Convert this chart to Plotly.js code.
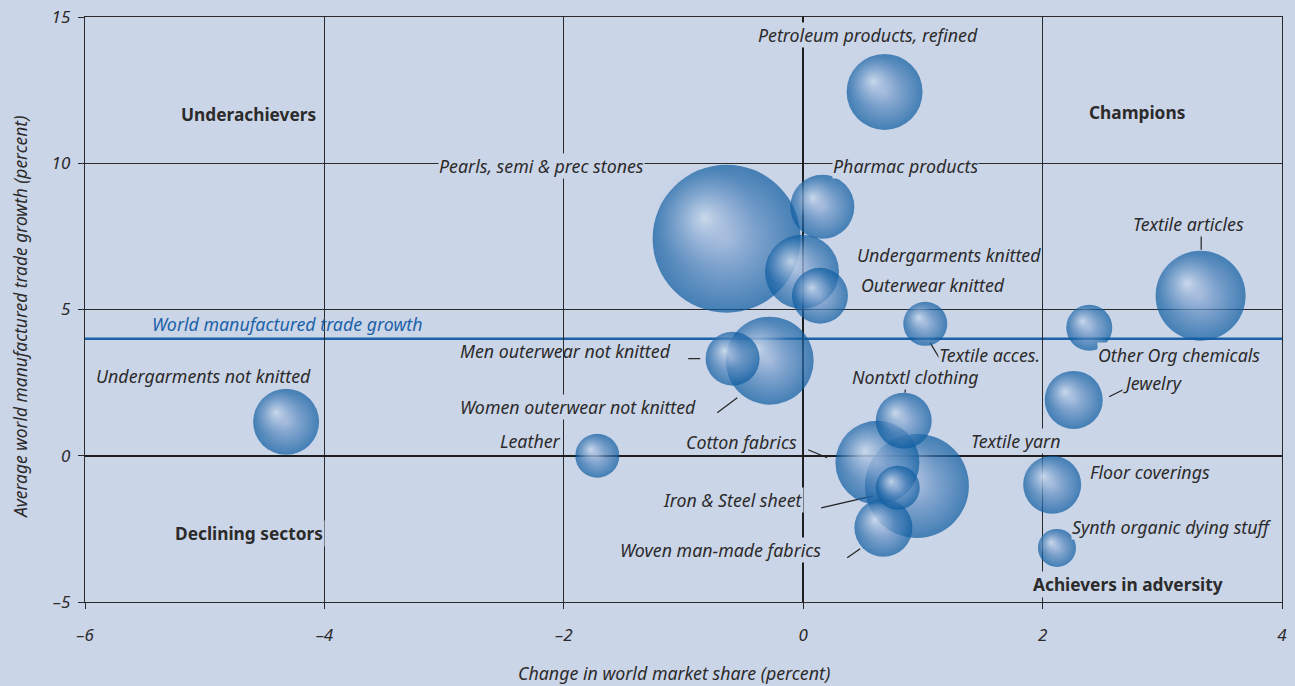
<!DOCTYPE html>
<html>
<head>
<meta charset="utf-8">
<script src="https://cdn.plot.ly/plotly-3.0.1.min.js"></script>
<style>html,body{margin:0;padding:0;background:#cbd5e8;}#chart{width:1295px;height:686px;}</style>
</head>
<body>
<div id="chart"></div>
<script>
// Data
var products = ["Petroleum products, refined", "Pearls, semi & prec stones", "Pharmac products",
  "Undergarments knitted", "Outerwear knitted", "Textile acces.", "Women outerwear not knitted",
  "Men outerwear not knitted", "Undergarments not knitted", "Leather", "Textile yarn",
  "Cotton fabrics", "Nontxtl clothing", "Woven man-made fabrics", "Iron & Steel sheet",
  "Textile articles", "Other Org chemicals", "Jewelry", "Floor coverings", "Synth organic dying stuff"];
var marketShareChange = [0.68, -0.64, 0.16, -0.01, 0.14, 1.02, -0.28, -0.59, -4.32, -1.72, 0.95,
  0.62, 0.84, 0.67, 0.79, 3.32, 2.39, 2.26, 2.08, 2.12];
var tradeGrowth = [12.44, 7.42, 8.51, 6.29, 5.47, 4.51, 3.25, 3.32, 1.16, 0.0, -1.03,
  -0.24, 1.20, -2.46, -1.09, 5.47, 4.38, 1.91, -0.99, -3.15];
var tradeSize = [76, 148, 64, 74, 56, 44, 88, 54, 66, 44, 104, 84, 56, 58, 44, 90, 46, 58, 58, 38];
var worldTradeGrowth = 4;
var xTicks = [-6, -4, -2, 0, 2, 4];
var xTickLabels = ["\u20136", "\u20134", "\u20132", "0", "2", "4"];
var yTicks = [-5, 0, 5, 10, 15];
var yTickLabels = ["\u20135", "0", "5", "10", "15"];
var quadrants = ["Underachievers", "Champions", "Declining sectors", "Achievers in adversity"];

var BG = '#cbd5e8';
var TXT = '#2b2b2b';
var FONT = 'Noto Sans, Open Sans, sans-serif';

var X_RANGE = [-6, 4], Y_RANGE = [-5, 15];
var M = {l: 85, r: 13, t: 17, b: 84};
var W = 1295, H = 686;
var pxPerX = (W - M.l - M.r) / (X_RANGE[1] - X_RANGE[0]);
var pxPerY = (H - M.t - M.b) / (Y_RANGE[1] - Y_RANGE[0]);

// each bubble: base sphere + soft off-centre highlight, drawn in data order
var traces = [];
products.forEach(function (p, i) {
  var r = tradeSize[i] / 2;
  traces.push({
    type: 'scatter', mode: 'markers', x: [marketShareChange[i]], y: [tradeGrowth[i]],
    marker: {size: [tradeSize[i]], sizemode: 'diameter', color: '#0a5a9f', line: {width: 0},
      gradient: {type: 'radial', color: '#90acd6'}},
    showlegend: false, hoverinfo: 'skip'
  });
  traces.push({
    type: 'scatter', mode: 'markers',
    x: [marketShareChange[i] - 0.3 * r / pxPerX], y: [tradeGrowth[i] + 0.28 * r / pxPerY],
    marker: {size: [tradeSize[i] * 0.7], sizemode: 'diameter', color: 'rgba(144,172,214,0)',
      line: {width: 0}, gradient: {type: 'radial', color: 'rgba(236,241,249,1)'}},
    showlegend: false, hoverinfo: 'skip'
  });
});

// label positions (layout)
var labelPos = [[0.543, 14.39], [-2.19, 9.91], [0.852, 9.91], [1.22, 6.87], [1.086, 5.85],
  [1.56, 3.45], [-1.88, 1.675], [-1.99, 3.59], [-5.01, 2.74], [-2.28, 0.51], [1.77, 0.51],
  [-0.518, 0.48], [0.936, 2.70], [-0.693, -3.21], [-0.585, -1.50], [3.216, 7.93],
  [3.14, 3.45], [2.92, 2.50], [2.90, -0.55], [3.08, -2.43]];
var noKnockout = ["Men outerwear not knitted"];

var annotations = [];
products.forEach(function (p, i) {
  annotations.push({
    x: labelPos[i][0], y: labelPos[i][1], xref: 'x', yref: 'y', text: p,
    showarrow: false, bgcolor: noKnockout.indexOf(p) >= 0 ? 'rgba(0,0,0,0)' : BG, borderpad: 0,
    font: {family: FONT, size: 17.8, color: TXT, style: 'italic'}
  });
});
annotations.push({
  x: -4.31, y: 4.51, xref: 'x', yref: 'y', text: 'World manufactured trade growth',
  showarrow: false, font: {family: FONT, size: 17.8, color: '#1b62a8', style: 'italic'}
});
var quadPos = [[-4.63, 11.66], [2.79, 11.73], [-4.63, -2.67], [2.715, -4.41]];
quadrants.forEach(function (q, i) {
  annotations.push({
    x: quadPos[i][0], y: quadPos[i][1], xref: 'x', yref: 'y', text: q,
    showarrow: false, bgcolor: BG, borderpad: 1,
    font: {family: FONT, size: 17.3, color: TXT, weight: 'bold'}
  });
});
annotations.push({
  x: 0.492, y: -0.121, xref: 'paper', yref: 'paper', xanchor: 'center', yanchor: 'middle',
  showarrow: false, text: 'Change in world market share (percent)',
  font: {family: FONT, size: 17.8, color: TXT, style: 'italic'}
});
annotations.push({
  x: -0.0543, y: 0.487, xref: 'paper', yref: 'paper', xanchor: 'center', yanchor: 'middle',
  showarrow: false, textangle: -90,
  text: 'Average world manufactured trade growth (percent)',
  font: {family: FONT, size: 17.4, color: TXT, style: 'italic'}
});

var leaders = [[3.325, 7.62, 3.325, 7.04], [1.061, 3.86, 1.161, 3.18], [2.556, 2.02, 2.69, 2.29],
  [0.852, 2.36, 0.852, 2.15], [-0.961, 3.32, -0.860, 3.32], [-0.718, 1.47, -0.551, 1.98],
  [0.042, 0.205, 0.2, -0.068], [0.150, -1.78, 0.585, -1.37], [0.368, -3.49, 0.476, -3.18]];
var shapes = [{
  type: 'line', xref: 'paper', yref: 'y', x0: 0, x1: 1, y0: worldTradeGrowth, y1: worldTradeGrowth,
  line: {color: '#1b62a8', width: 2.5}, layer: 'between'
}];
leaders.forEach(function (l) {
  shapes.push({type: 'line', xref: 'x', yref: 'y', x0: l[0], y0: l[1], x1: l[2], y1: l[3],
    line: {color: '#222', width: 1.2}, layer: 'between'});
});

var axisCommon = {
  showgrid: true, gridcolor: '#2a2a2a', gridwidth: 1,
  zeroline: true, zerolinecolor: '#1e1e1e', zerolinewidth: 2.5,
  showline: true, mirror: true, linecolor: '#2a2a2a', linewidth: 1.3,
  ticks: 'outside', ticklen: 6, tickcolor: '#2a2a2a', tickwidth: 1,
  tickfont: {family: FONT, size: 17, color: TXT, style: 'italic'}
};

var layout = {
  width: W, height: H,
  paper_bgcolor: BG, plot_bgcolor: BG,
  margin: M,
  xaxis: Object.assign({}, axisCommon, {range: X_RANGE, tickmode: 'array', tickvals: xTicks,
    ticktext: xTickLabels, ticklabelstandoff: 11}),
  yaxis: Object.assign({}, axisCommon, {range: Y_RANGE, tickmode: 'array', tickvals: yTicks,
    ticktext: yTickLabels, ticklabelstandoff: 4}),
  annotations: annotations,
  shapes: shapes,
  hovermode: false
};

Plotly.newPlot('chart', traces, layout, {displayModeBar: false, staticPlot: true});
</script>
</body>
</html>
